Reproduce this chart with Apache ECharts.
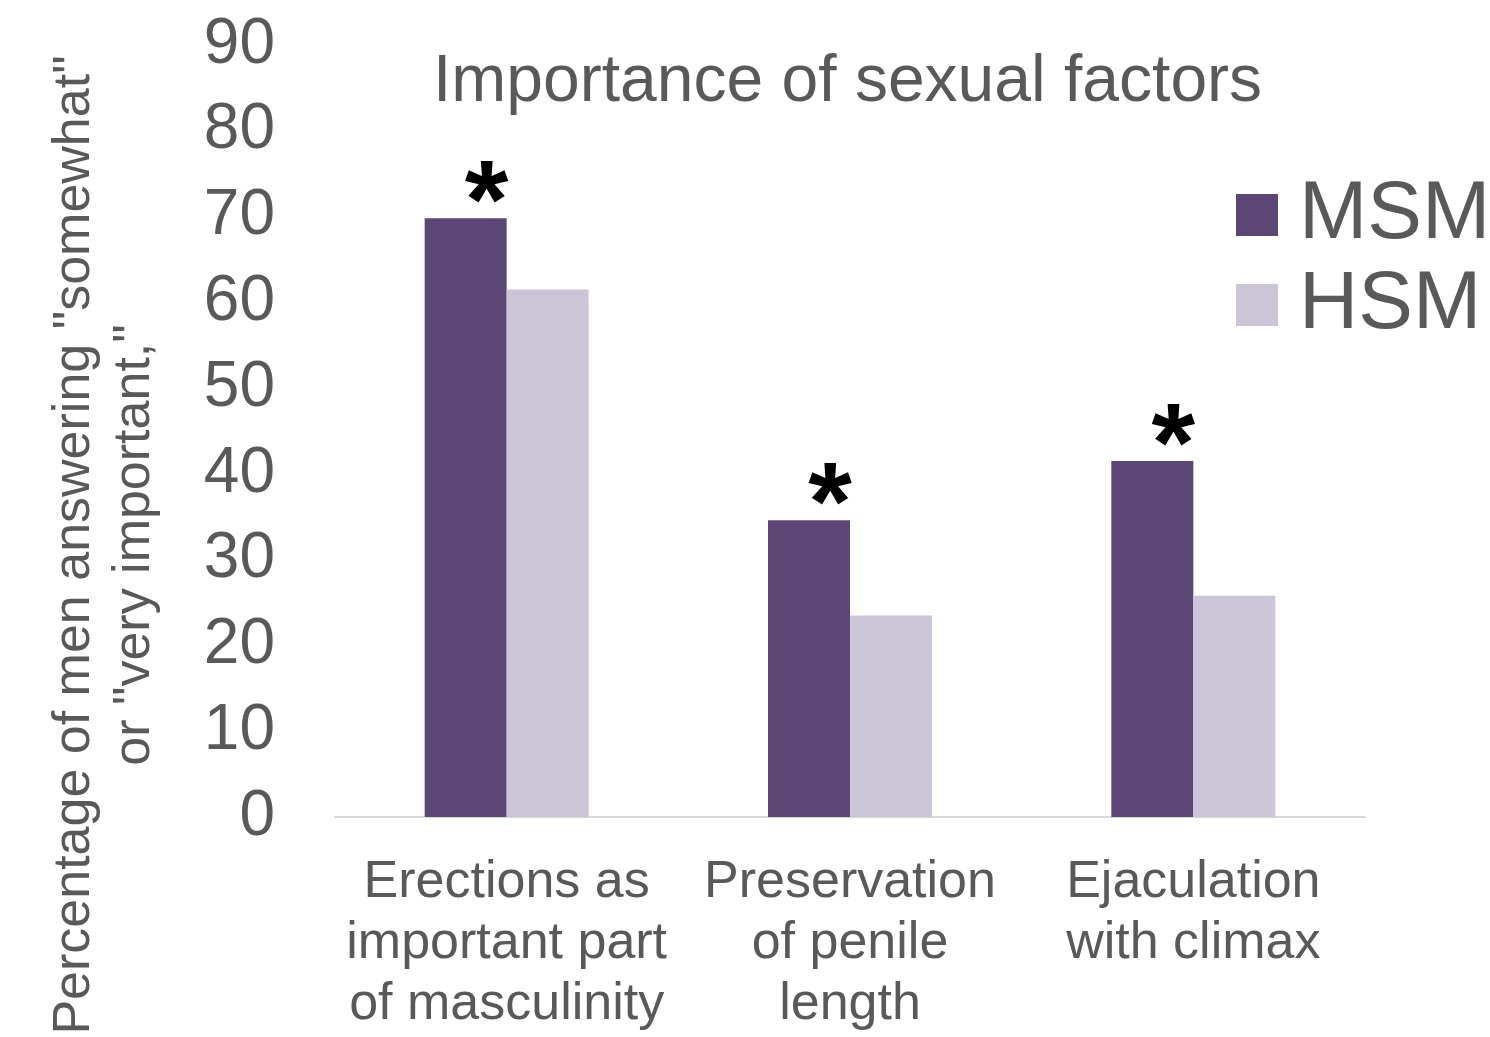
<!DOCTYPE html>
<html>
<head>
<meta charset="utf-8">
<script src="https://cdn.jsdelivr.net/npm/echarts@6/dist/echarts.min.js"></script>
<style>html,body{margin:0;padding:0;background:#fff;}#c{width:1490px;height:1037px;}</style>
</head>
<body>
<div id="c"></div>
<script>
const categories = ["Erections as\nimportant part\nof masculinity", "Preservation\nof penile\nlength", "Ejaculation\nwith climax"];
const msmValues = [69.8, 34.6, 41.5];
const hsmValues = [61.5, 23.5, 25.8];
const seriesNames = ["MSM", "HSM"];
const significance = ["*", "*", "*"];
const yTicks = [0, 90, 10];

const FONT = "'Liberation Sans', Arial, sans-serif";
const chart = echarts.init(document.getElementById('c'));
chart.setOption({
  backgroundColor: '#ffffff',
  animation: false,
  title: {
    text: 'Importance of sexual factors',
    left: 428, top: 45,
    textStyle: { fontFamily: FONT, fontSize: 66, fontWeight: 'normal', color: '#595959' }
  },
  legend: {
    data: seriesNames,
    orient: 'vertical',
    left: 1231, top: 169,
    itemWidth: 42, itemHeight: 42, itemGap: 8,
    icon: 'rect',
    textStyle: { fontFamily: FONT, fontSize: 82, lineHeight: 81, color: '#595959', padding: [0,0,0,16] }
  },
  grid: { left: 335, right: 125, top: 45, bottom: 220 },
  xAxis: {
    type: 'category',
    data: categories,
    axisLine: { lineStyle: { color: '#d9d9d9', width: 2 } },
    axisTick: { show: false },
    axisLabel: { fontFamily: FONT, fontSize: 52, lineHeight: 61, color: '#595959', margin: 35, interval: 0 }
  },
  yAxis: {
    type: 'value',
    min: yTicks[0], max: yTicks[1], interval: yTicks[2],
    axisLine: { show: false }, axisTick: { show: false }, splitLine: { show: false },
    axisLabel: { fontFamily: FONT, fontSize: 64, color: '#595959', margin: 60 }
  },
  graphic: [{
    type: 'text',
    x: 105, y: 545,
    rotation: Math.PI / 2,
    style: {
      text: 'Percentage of men answering "somewhat"\nor "very important,"',
      fontFamily: FONT, fontSize: 52, lineHeight: 60, fill: '#595959',
      align: 'center', verticalAlign: 'middle'
    }
  }],
  series: [
    {
      name: seriesNames[0], type: 'bar', data: msmValues,
      itemStyle: { color: '#5c4675' },
      barWidth: 82, barGap: '0%',
      label: {
        show: true, position: 'top', distance: -45, offset: [21, 0],
        formatter: p => significance[p.dataIndex],
        fontFamily: FONT, fontSize: 112, fontWeight: 'bold', color: '#000'
      }
    },
    {
      name: seriesNames[1], type: 'bar', data: hsmValues,
      itemStyle: { color: '#ccc5d7' },
      barWidth: 82, barGap: '0%'
    }
  ]
});
</script>
</body>
</html>
